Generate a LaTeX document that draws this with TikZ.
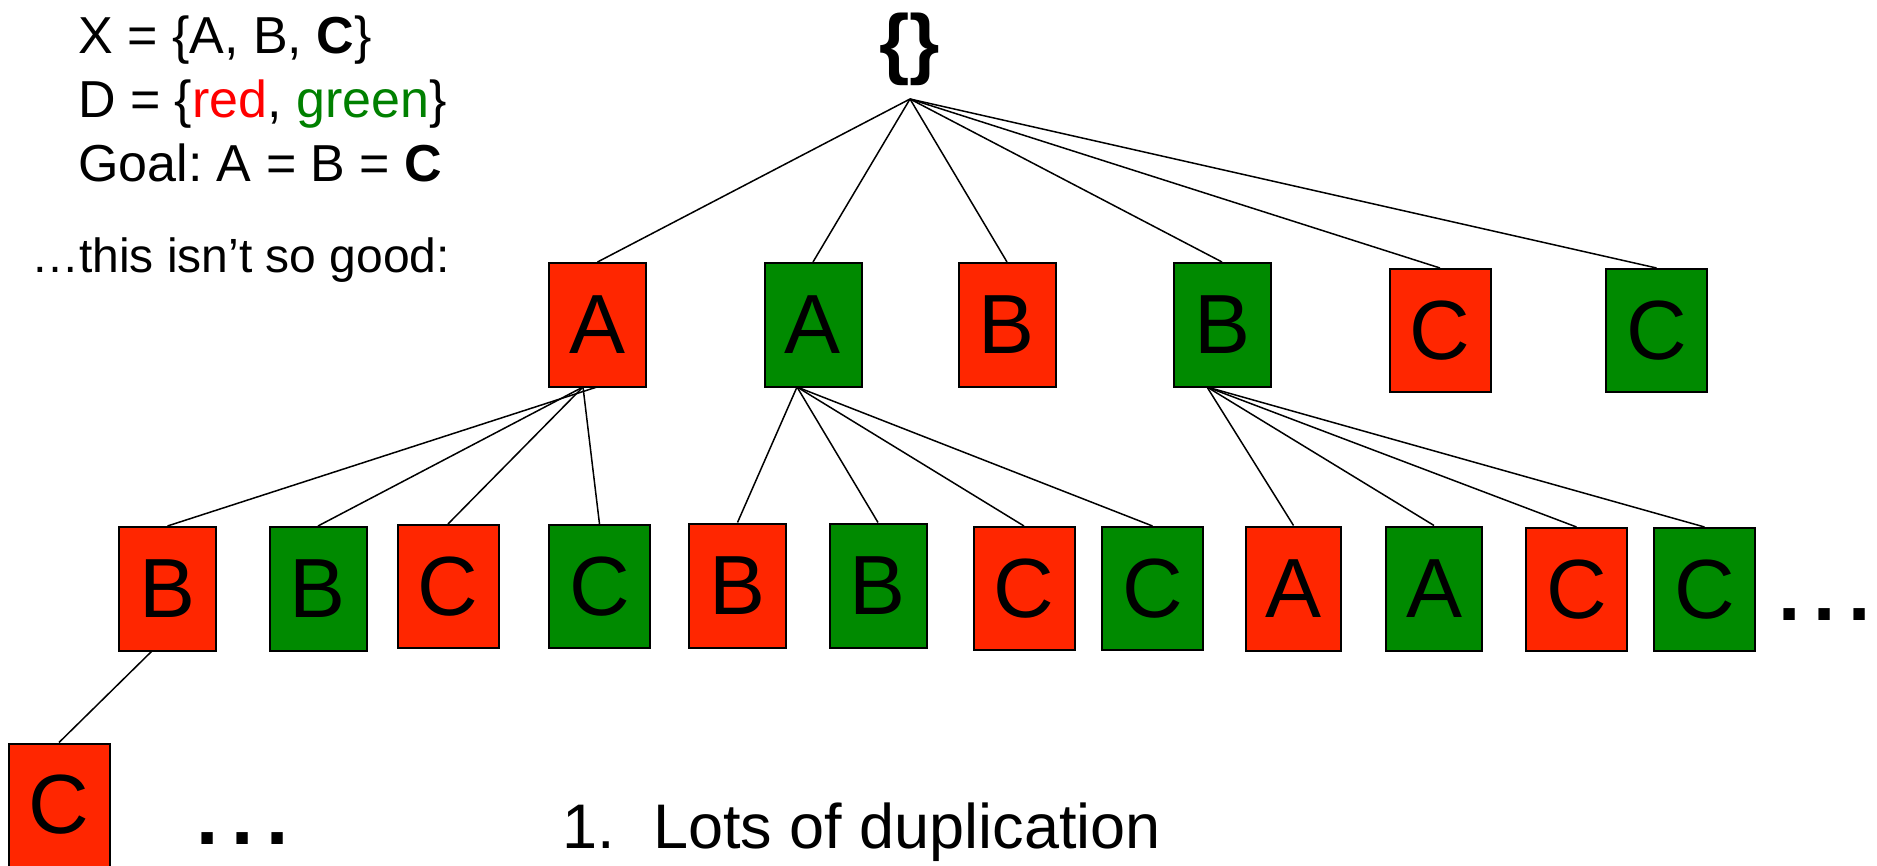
\documentclass[tikz,border=0pt]{standalone}
\usepackage{fontspec}
\setmainfont{Liberation Sans}
\frenchspacing
\definecolor{boxred}{RGB}{255,38,0}
\definecolor{boxgreen}{RGB}{0,138,0}
\definecolor{txtred}{RGB}{255,0,0}
\definecolor{txtgreen}{RGB}{0,128,0}
\begin{document}
\begin{tikzpicture}[x=1pt,y=-1pt,
  cell/.style={draw=black,line width=2pt,inner sep=0pt,
    minimum width=97pt,minimum height=124pt,
    font=\fontsize{84}{84}\selectfont},
  redcell/.style={cell,fill=boxred},
  greencell/.style={cell,fill=boxgreen},
  wide/.style={minimum width=101pt,minimum height=123pt},
  link/.style={line width=1.5pt,black},
  label/.style={anchor=base west,inner sep=0pt,font=\fontsize{52}{52}\selectfont},
  dots/.style={anchor=base west,inner sep=0pt,font=\fontsize{80}{80}\selectfont\bfseries}]
\clip (0,0) rectangle (1877,866);

% heading lines
\node[label] (lx) at (78,54) {X = \{A, B, \textbf{C}\}};
\node[label] (ld) at (78,118) {D = \{\textcolor{txtred}{red}, \textcolor{txtgreen}{green}\}};
\node[label] (lg) at (78,182) {Goal: A = B = \textbf{C}};
\node[label,font=\fontsize{48}{48}\selectfont] (lnote) at (31,273) {…this isn’t so good:};

% root of the search tree
\node[anchor=base,inner sep=0pt,font=\fontsize{78}{78}\selectfont\bfseries] (root) at (910,70) {\{\}};
\coordinate (rootpt) at (910,99);

% first level
\node[redcell] (a1r) at (597.5,325) {A};
\node[greencell] (a1g) at (813,325) {A};
\node[redcell] (b1r) at (1007,325) {B};
\node[greencell] (b1g) at (1222,325) {B};
\node[redcell,wide] (c1r) at (1440,330.5) {C};
\node[greencell,wide] (c1g) at (1656.5,330.5) {C};

% second level
\node[redcell] (b2r1) at (167.5,589) {B};
\node[greencell] (b2g1) at (318,589) {B};
\node[redcell,wide] (c2r1) at (448,586.5) {C};
\node[greencell,wide] (c2g1) at (599.5,586.5) {C};
\node[redcell] (b2r2) at (737.5,585.5) {B};
\node[greencell] (b2g2) at (878,585.5) {B};
\node[redcell,wide] (c2r2) at (1024,588.5) {C};
\node[greencell,wide] (c2g2) at (1152.5,588.5) {C};
\node[redcell,minimum width=95pt] (a2r) at (1293.5,588.5) {A};
\node[greencell,minimum width=96pt] (a2g) at (1434,588.5) {A};
\node[redcell,wide] (c2r3) at (1576.5,589.5) {C};
\node[greencell,wide] (c2g3) at (1704.5,589.5) {C};

% third level
\node[redcell,wide] (c3r) at (59,805) {C};

% branching points under the parents
\coordinate (pa1) at (597,387);
\coordinate (pa2) at (583,387);
\coordinate (pag) at (797,387);
\coordinate (pbg) at (1207,387);
\coordinate (pb2) at (152,651);

% connectors
\foreach \n in {a1r,a1g,b1r,b1g,c1r,c1g}
  \draw[link] (rootpt) -- (\n.north);
\draw[link] (pa1) -- (b2r1.north);
\foreach \n in {b2g1,c2r1,c2g1}
  \draw[link] (pa2) -- (\n.north);
\foreach \n in {b2r2,b2g2,c2r2,c2g2}
  \draw[link] (pag) -- (\n.north);
\foreach \n in {a2r,a2g,c2r3,c2g3}
  \draw[link] (pbg) -- (\n.north);
\draw[link] (pb2) -- (c3r.north);

% continuation marks
\node[dots] (moreright) at (1778,620) {.\hspace{13pt}.\hspace{13pt}.};
\node[dots] (moreleft) at (196,844) {.\hspace{13pt}.\hspace{13pt}.};

% remark
\node[anchor=base west,inner sep=0pt,font=\fontsize{63}{63}\selectfont] (num) at (562,848) {1.};
\node[anchor=base west,inner sep=0pt,font=\fontsize{63}{63}\selectfont] (remark) at (653,848) {Lots of duplication};
\end{tikzpicture}
\end{document}
